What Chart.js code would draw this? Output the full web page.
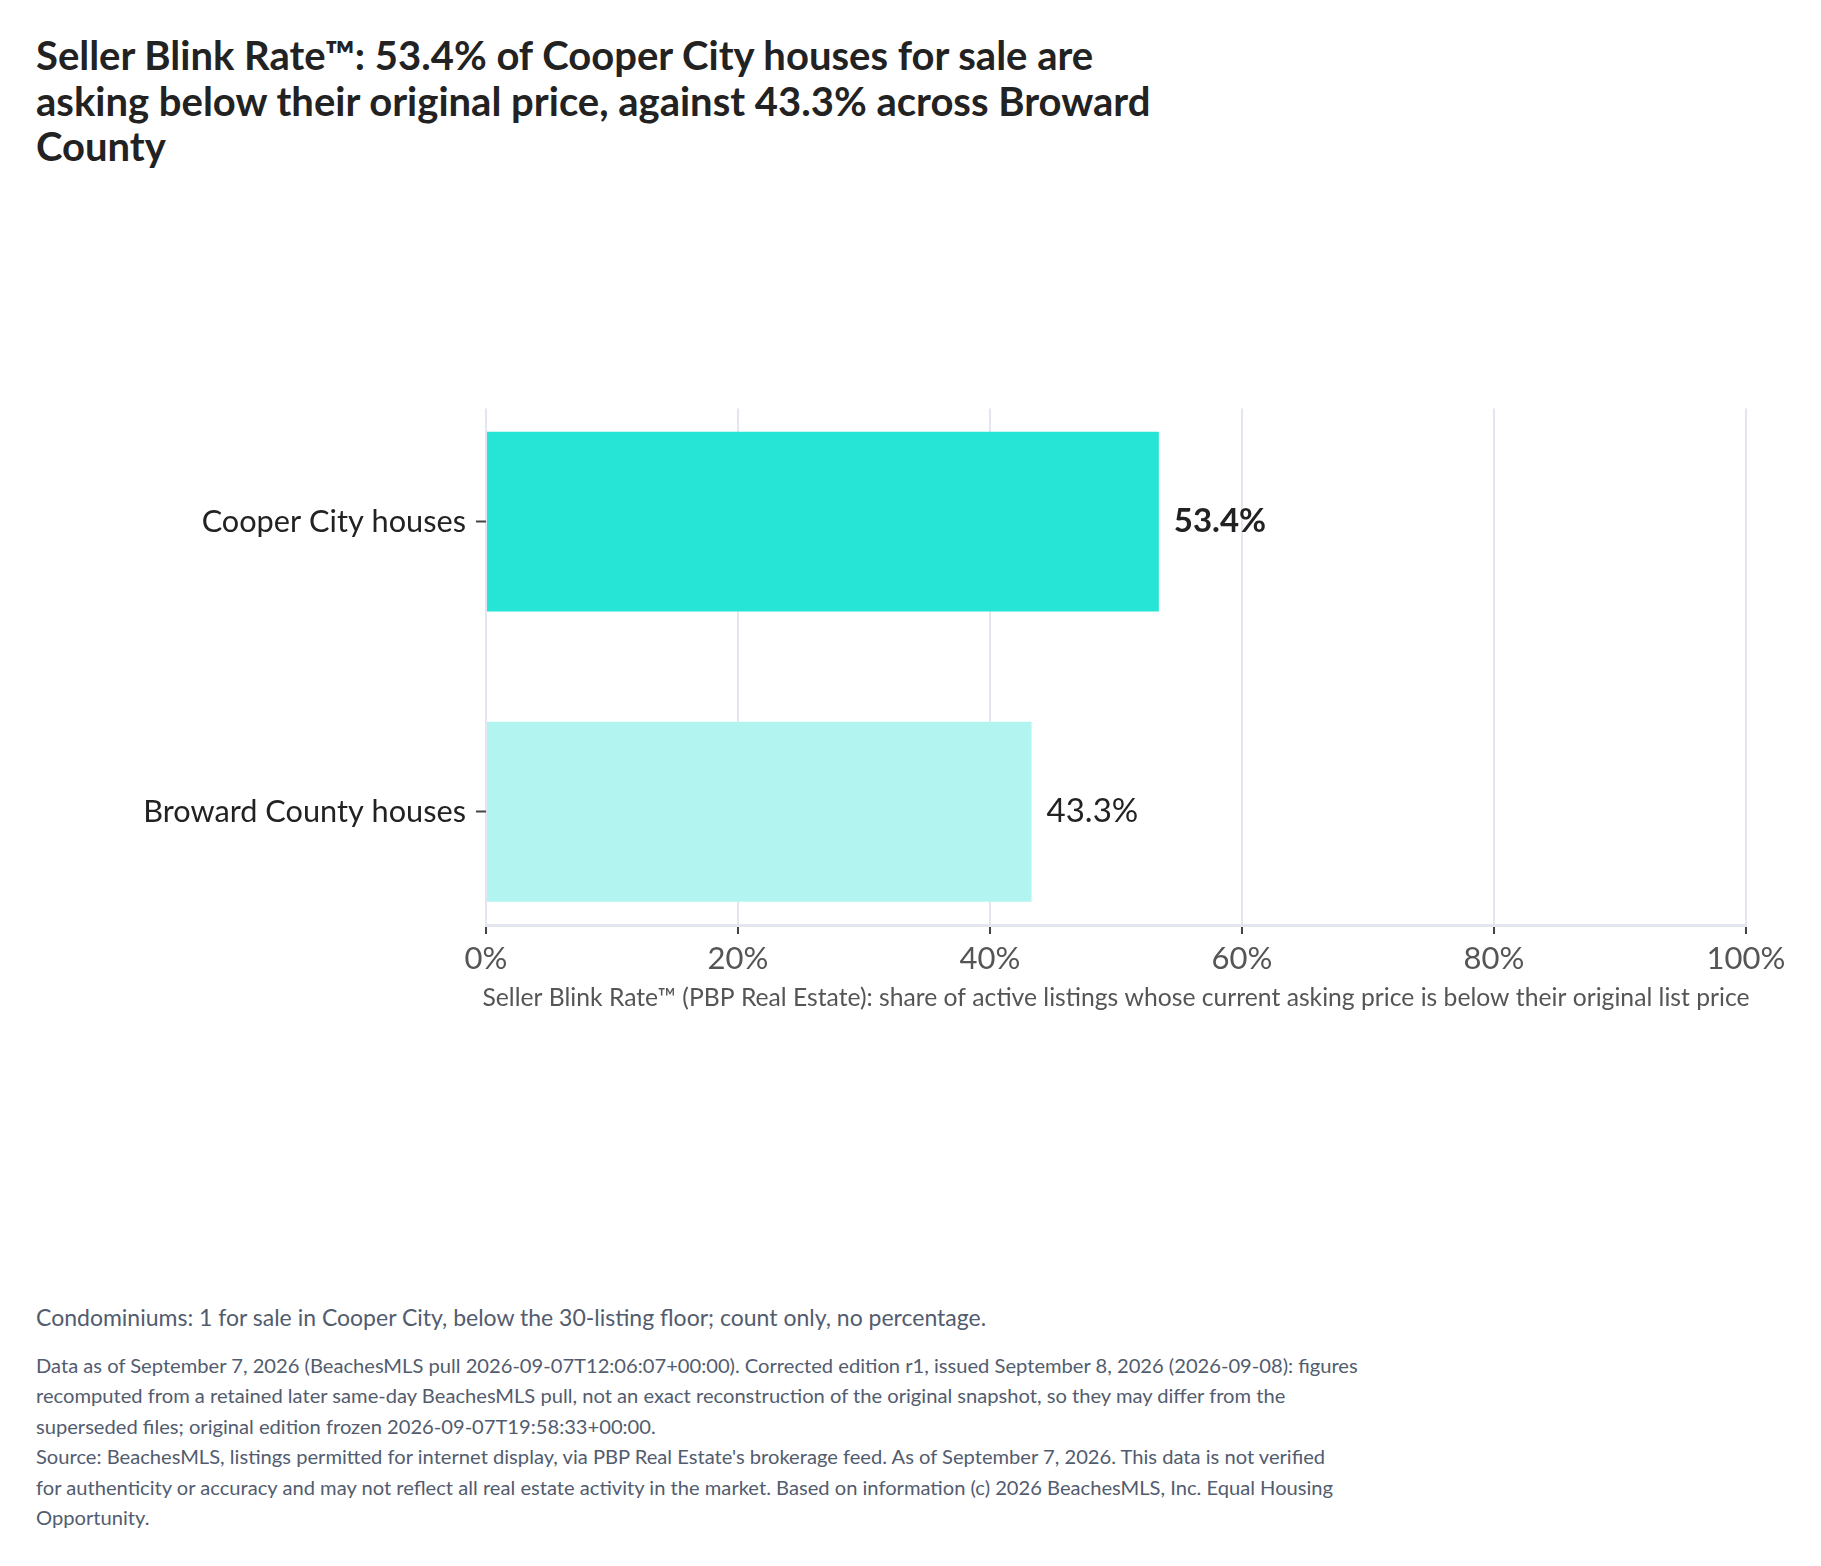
<!DOCTYPE html>
<html>
<head>
<meta charset="utf-8">
<script src="https://cdn.jsdelivr.net/npm/chart.js@4"></script>
<style>
  body { margin:0; background:#fff; font-family:Lato, "Noto Sans", sans-serif; }
  #title { position:absolute; left:36px; top:33px; margin:0; white-space:nowrap;
           font-size:40px; font-weight:700; line-height:45.5px; color:#222; }
  #wrap { position:absolute; left:0; top:380px; width:1821px; height:645px; }
  #note { position:absolute; left:36px; top:1303px; margin:0; font-size:23px; color:#525c6e; }
  #source { position:absolute; left:36px; top:1350px; margin:0; white-space:nowrap;
            font-size:20.15px; line-height:30.4px; color:#525c6e; }
  #source p { margin:0; }
</style>
</head>
<body>
<h1 id="title">Seller Blink Rate™: 53.4% of Cooper City houses for sale are<br>asking below their original price, against 43.3% across Broward<br>County</h1>
<div id="wrap"><canvas id="chart"></canvas></div>
<p id="note">Condominiums: 1 for sale in Cooper City, below the 30-listing floor; count only, no percentage.</p>
<div id="source">
<p>Data as of September 7, 2026 (BeachesMLS pull 2026-09-07T12:06:07+00:00). Corrected edition r1, issued September 8, 2026 (2026-09-08): figures<br>recomputed from a retained later same-day BeachesMLS pull, not an exact reconstruction of the original snapshot, so they may differ from the<br>superseded files; original edition frozen 2026-09-07T19:58:33+00:00.</p>
<p>Source: BeachesMLS, listings permitted for internet display, via PBP Real Estate's brokerage feed. As of September 7, 2026. This data is not verified<br>for authenticity or accuracy and may not reflect all real estate activity in the market. Based on information (c) 2026 BeachesMLS, Inc. Equal Housing<br>Opportunity.</p>
</div>
<script>
// data
const categories = ["Cooper City houses", "Broward County houses"];
const blinkRate = [53.4, 43.3];
const barColors = ["#26e4d6", "#b2f5f0"];
const labelWeights = ["bold", "normal"];
const xTicks = [0, 20, 40, 60, 80, 100];
const xTitle = "Seller Blink Rate™ (PBP Real Estate): share of active listings whose current asking price is below their original list price";

const gridColor = "#e4e6ef";

// value labels at bar ends
const barLabels = {
  id: "barLabels",
  afterDatasetsDraw(chart){
    const ctx = chart.ctx;
    const meta = chart.getDatasetMeta(0);
    ctx.save();
    ctx.fillStyle = "#222";
    ctx.textAlign = "left";
    ctx.textBaseline = "middle";
    meta.data.forEach((bar, i)=>{
      ctx.font = labelWeights[i] + " 33px Lato";
      ctx.fillText(blinkRate[i].toFixed(1) + "%", bar.x + 15, bar.y);
    });
    ctx.restore();
  }
};

// x axis title drawn here so it is not squeezed to the axis width
const axisTitle = {
  id: "axisTitle",
  afterDraw(chart){
    const ctx = chart.ctx;
    const xs = chart.scales.x;
    const area = chart.chartArea;
    ctx.save();
    ctx.fillStyle = "#555";
    ctx.font = "24.7px Lato";
    ctx.textAlign = "center";
    ctx.textBaseline = "middle";
    ctx.fillText(xTitle, (area.left + area.right) / 2, xs.bottom - 27);
    ctx.restore();
  }
};

new Chart(document.getElementById("chart"), {
  type: "bar",
  data: {
    datasets: [{
      data: blinkRate.map((v, i)=>({x: v, y: i})),
      backgroundColor: barColors,
      borderWidth: 0,
      barPercentage: 0.62,
      categoryPercentage: 1
    }]
  },
  options: {
    indexAxis: "y",
    responsive: true,
    maintainAspectRatio: false,
    animation: false,
    layout: { padding: { top: 27, right: 75, bottom: 0, left: 0 } },
    plugins: { legend: { display: false }, tooltip: { enabled: false } },
    scales: {
      x: {
        type: "linear",
        min: 0, max: 100,
        afterBuildTicks: s => { s.ticks = xTicks.map(v=>({value: v})); },
        afterFit: s => { s.height = 100; },
        grid: { color: gridColor, lineWidth: 2, tickColor: "#444", tickWidth: 2, tickLength: 9 },
        border: { color: gridColor, width: 3 },
        ticks: { color: "#555", font: { family: "Lato", size: 31 }, padding: 6, callback: v => v + "%" }
      },
      y: {
        type: "linear",
        reverse: true,
        offset: false,
        min: -0.39, max: 1.39,
        afterBuildTicks: s => { s.ticks = categories.map((c, i)=>({value: i})); },
        afterFit: s => { s.width = 486; },
        grid: { offset: false, drawOnChartArea: false, tickColor: "#444", tickWidth: 2, tickLength: 10 },
        border: { display: false },
        ticks: { color: "#222", font: { family: "Lato", size: 30.7 }, padding: 10, callback: v => categories[v] }
      }
    }
  },
  plugins: [barLabels, axisTitle]
});
</script>
</body>
</html>
